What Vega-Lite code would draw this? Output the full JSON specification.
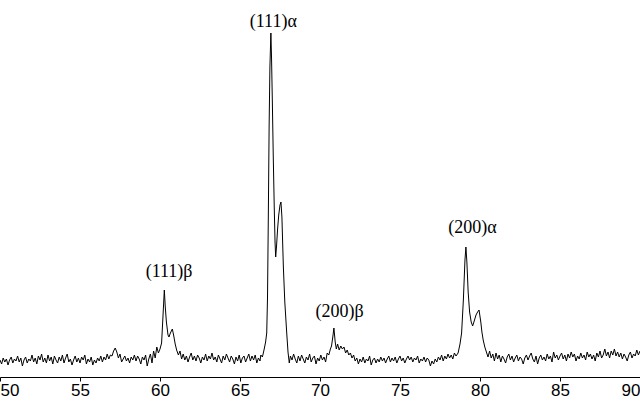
{
  "$schema": "https://vega.github.io/schema/vega-lite/v6.json",
  "width": 640,
  "height": 377,
  "autosize": {"type": "none"},
  "padding": {"left": 0, "right": 0, "top": 0, "bottom": 25},
  "background": "white",
  "config": {"view": {"stroke": null}},
  "datasets": {
    "xrd": [
      {"t":50.0,"i":17},{"t":50.1,"i":13},{"t":50.2,"i":19},{"t":50.3,"i":15},{"t":50.4,"i":18},{"t":50.5,"i":12},{"t":50.6,"i":17},{"t":50.7,"i":20},{"t":50.8,"i":14},{"t":50.9,"i":18},
      {"t":51.0,"i":16},{"t":51.1,"i":21},{"t":51.2,"i":15},{"t":51.3,"i":19},{"t":51.4,"i":11},{"t":51.5,"i":17},{"t":51.6,"i":20},{"t":51.7,"i":14},{"t":51.8,"i":18},{"t":51.9,"i":16},
      {"t":52.0,"i":22},{"t":52.1,"i":15},{"t":52.2,"i":19},{"t":52.3,"i":13},{"t":52.4,"i":21},{"t":52.5,"i":17},{"t":52.6,"i":23},{"t":52.7,"i":15},{"t":52.8,"i":19},{"t":52.9,"i":14},
      {"t":53.0,"i":22},{"t":53.1,"i":16},{"t":53.2,"i":20},{"t":53.3,"i":13},{"t":53.4,"i":21},{"t":53.5,"i":17},{"t":53.6,"i":14},{"t":53.7,"i":20},{"t":53.8,"i":16},{"t":53.9,"i":22},
      {"t":54.0,"i":14},{"t":54.1,"i":19},{"t":54.2,"i":23},{"t":54.3,"i":15},{"t":54.4,"i":18},{"t":54.5,"i":12},{"t":54.6,"i":17},{"t":54.7,"i":21},{"t":54.8,"i":15},{"t":54.9,"i":19},
      {"t":55.0,"i":14},{"t":55.1,"i":20},{"t":55.2,"i":17},{"t":55.3,"i":22},{"t":55.4,"i":13},{"t":55.5,"i":18},{"t":55.6,"i":15},{"t":55.7,"i":20},{"t":55.8,"i":12},{"t":55.9,"i":17},
      {"t":56.0,"i":14},{"t":56.1,"i":19},{"t":56.2,"i":16},{"t":56.3,"i":21},{"t":56.4,"i":15},{"t":56.5,"i":20},{"t":56.6,"i":17},{"t":56.7,"i":23},{"t":56.8,"i":18},{"t":56.9,"i":22},
      {"t":57.0,"i":21},{"t":57.1,"i":26},{"t":57.2,"i":29},{"t":57.3,"i":25},{"t":57.4,"i":19},{"t":57.5,"i":23},{"t":57.6,"i":15},{"t":57.7,"i":18},{"t":57.8,"i":21},{"t":57.9,"i":16},
      {"t":58.0,"i":19},{"t":58.1,"i":14},{"t":58.2,"i":20},{"t":58.3,"i":17},{"t":58.4,"i":22},{"t":58.5,"i":16},{"t":58.6,"i":21},{"t":58.7,"i":18},{"t":58.8,"i":13},{"t":58.9,"i":20},
      {"t":59.0,"i":17},{"t":59.1,"i":22},{"t":59.2,"i":11},{"t":59.3,"i":18},{"t":59.4,"i":23},{"t":59.5,"i":14},{"t":59.6,"i":26},{"t":59.7,"i":19},{"t":59.8,"i":30},{"t":59.9,"i":24},
      {"t":60.0,"i":28},{"t":60.1,"i":34},{"t":60.2,"i":65},{"t":60.27,"i":87},{"t":60.33,"i":70},{"t":60.4,"i":55},{"t":60.5,"i":42},{"t":60.56,"i":40},{"t":60.65,"i":44},{"t":60.77,"i":48},
      {"t":60.85,"i":42},{"t":60.95,"i":33},{"t":61.04,"i":27},
      {"t":61.15,"i":22},{"t":61.25,"i":26},{"t":61.35,"i":18},{"t":61.45,"i":23},{"t":61.55,"i":17},{"t":61.65,"i":21},{"t":61.75,"i":15},{"t":61.85,"i":20},{"t":61.95,"i":24},{"t":62.05,"i":17},
      {"t":62.15,"i":21},{"t":62.25,"i":16},{"t":62.35,"i":22},{"t":62.45,"i":19},{"t":62.55,"i":14},{"t":62.65,"i":20},{"t":62.75,"i":17},{"t":62.85,"i":23},{"t":62.95,"i":16},{"t":63.05,"i":21},
      {"t":63.15,"i":18},{"t":63.25,"i":24},{"t":63.35,"i":17},{"t":63.45,"i":20},{"t":63.55,"i":15},{"t":63.65,"i":22},{"t":63.75,"i":18},{"t":63.85,"i":14},{"t":63.95,"i":21},{"t":64.05,"i":17},
      {"t":64.15,"i":23},{"t":64.25,"i":19},{"t":64.35,"i":15},{"t":64.45,"i":21},{"t":64.55,"i":18},{"t":64.65,"i":13},{"t":64.75,"i":20},{"t":64.85,"i":16},{"t":64.95,"i":22},{"t":65.05,"i":14},
      {"t":65.15,"i":19},{"t":65.25,"i":21},{"t":65.35,"i":15},{"t":65.45,"i":19},{"t":65.55,"i":23},{"t":65.65,"i":16},{"t":65.75,"i":21},{"t":65.85,"i":17},{"t":65.95,"i":22},{"t":66.05,"i":14},
      {"t":66.15,"i":19},{"t":66.25,"i":16},{"t":66.3,"i":22},{"t":66.4,"i":20},{"t":66.5,"i":27},{"t":66.6,"i":35},{"t":66.67,"i":44},{"t":66.72,"i":80},
      {"t":66.77,"i":160},{"t":66.82,"i":250},{"t":66.87,"i":310},{"t":66.93,"i":344},{"t":66.97,"i":320},{"t":67.02,"i":277},{"t":67.08,"i":220},{"t":67.14,"i":170},{"t":67.19,"i":135},{"t":67.23,"i":120},
      {"t":67.28,"i":130},{"t":67.35,"i":148},{"t":67.42,"i":162},{"t":67.5,"i":172},{"t":67.56,"i":175},{"t":67.62,"i":160},{"t":67.71,"i":110},{"t":67.8,"i":75},{"t":67.92,"i":44},{"t":68.0,"i":25},
      {"t":68.08,"i":14},{"t":68.15,"i":21},{"t":68.25,"i":17},{"t":68.35,"i":23},{"t":68.45,"i":18},{"t":68.55,"i":14},{"t":68.65,"i":21},{"t":68.75,"i":16},{"t":68.85,"i":22},{"t":68.95,"i":18},
      {"t":69.05,"i":14},{"t":69.15,"i":20},{"t":69.25,"i":17},{"t":69.35,"i":23},{"t":69.45,"i":15},{"t":69.55,"i":19},{"t":69.65,"i":21},{"t":69.75,"i":13},{"t":69.85,"i":19},{"t":69.95,"i":16},
      {"t":70.05,"i":22},{"t":70.15,"i":17},{"t":70.25,"i":20},{"t":70.35,"i":15},{"t":70.45,"i":24},{"t":70.55,"i":22},{"t":70.65,"i":28},{"t":70.72,"i":31},{"t":70.8,"i":40},{"t":70.87,"i":49},
      {"t":70.95,"i":35},{"t":71.02,"i":28},{"t":71.1,"i":33},{"t":71.2,"i":27},{"t":71.3,"i":31},{"t":71.4,"i":28},{"t":71.5,"i":30},{"t":71.6,"i":24},{"t":71.7,"i":27},{"t":71.8,"i":22},
      {"t":71.9,"i":24},{"t":72.0,"i":19},{"t":72.1,"i":22},{"t":72.2,"i":16},{"t":72.3,"i":19},{"t":72.4,"i":13},{"t":72.5,"i":18},{"t":72.6,"i":15},{"t":72.7,"i":20},{"t":72.8,"i":14},
      {"t":72.9,"i":18},{"t":73.0,"i":16},{"t":73.1,"i":21},{"t":73.2,"i":12},{"t":73.3,"i":17},{"t":73.4,"i":19},{"t":73.5,"i":14},{"t":73.6,"i":18},{"t":73.7,"i":15},{"t":73.8,"i":20},
      {"t":73.9,"i":16},{"t":74.0,"i":19},{"t":74.1,"i":14},{"t":74.2,"i":18},{"t":74.3,"i":21},{"t":74.4,"i":15},{"t":74.5,"i":19},{"t":74.6,"i":16},{"t":74.7,"i":20},{"t":74.8,"i":14},
      {"t":74.9,"i":18},{"t":75.0,"i":21},{"t":75.1,"i":16},{"t":75.2,"i":19},{"t":75.3,"i":14},{"t":75.4,"i":18},{"t":75.5,"i":21},{"t":75.6,"i":17},{"t":75.7,"i":20},{"t":75.8,"i":15},
      {"t":75.9,"i":19},{"t":76.0,"i":17},{"t":76.1,"i":21},{"t":76.2,"i":14},{"t":76.3,"i":18},{"t":76.4,"i":16},{"t":76.5,"i":20},{"t":76.6,"i":15},{"t":76.7,"i":19},{"t":76.8,"i":17},
      {"t":76.9,"i":11},{"t":77.0,"i":16},{"t":77.1,"i":13},{"t":77.2,"i":18},{"t":77.3,"i":15},{"t":77.4,"i":20},{"t":77.5,"i":17},{"t":77.6,"i":22},{"t":77.7,"i":16},{"t":77.8,"i":21},
      {"t":77.9,"i":18},{"t":78.0,"i":23},{"t":78.1,"i":19},{"t":78.2,"i":22},{"t":78.3,"i":18},{"t":78.4,"i":24},{"t":78.5,"i":21},
      {"t":78.63,"i":24},{"t":78.75,"i":33},{"t":78.85,"i":44},{"t":78.96,"i":77},{"t":79.06,"i":117},{"t":79.12,"i":130},{"t":79.18,"i":115},{"t":79.26,"i":85},{"t":79.35,"i":65},{"t":79.45,"i":55},
      {"t":79.54,"i":51},{"t":79.62,"i":55},{"t":79.75,"i":62},{"t":79.85,"i":65},{"t":79.94,"i":67},{"t":80.05,"i":55},{"t":80.12,"i":45},{"t":80.2,"i":37},{"t":80.3,"i":30},{"t":80.4,"i":25},
      {"t":80.5,"i":20},{"t":80.6,"i":26},{"t":80.7,"i":19},{"t":80.8,"i":23},{"t":80.9,"i":16},{"t":81.0,"i":24},{"t":81.1,"i":18},{"t":81.2,"i":22},{"t":81.3,"i":15},{"t":81.4,"i":21},
      {"t":81.5,"i":18},{"t":81.6,"i":14},{"t":81.7,"i":20},{"t":81.8,"i":23},{"t":81.9,"i":17},{"t":82.0,"i":21},{"t":82.1,"i":15},{"t":82.2,"i":19},{"t":82.3,"i":22},{"t":82.4,"i":16},
      {"t":82.5,"i":20},{"t":82.6,"i":18},{"t":82.7,"i":13},{"t":82.8,"i":19},{"t":82.9,"i":22},{"t":83.0,"i":17},{"t":83.1,"i":21},{"t":83.2,"i":24},{"t":83.3,"i":18},{"t":83.4,"i":15},
      {"t":83.5,"i":21},{"t":83.6,"i":13},{"t":83.7,"i":19},{"t":83.8,"i":22},{"t":83.9,"i":17},{"t":84.0,"i":20},{"t":84.1,"i":16},{"t":84.2,"i":23},{"t":84.3,"i":18},{"t":84.4,"i":21},
      {"t":84.5,"i":15},{"t":84.6,"i":25},{"t":84.7,"i":19},{"t":84.8,"i":22},{"t":84.9,"i":17},{"t":85.0,"i":21},{"t":85.1,"i":24},{"t":85.2,"i":18},{"t":85.3,"i":22},{"t":85.4,"i":16},
      {"t":85.5,"i":23},{"t":85.6,"i":19},{"t":85.7,"i":25},{"t":85.8,"i":20},{"t":85.9,"i":23},{"t":86.0,"i":16},{"t":86.1,"i":21},{"t":86.2,"i":18},{"t":86.3,"i":24},{"t":86.4,"i":19},
      {"t":86.5,"i":22},{"t":86.6,"i":17},{"t":86.7,"i":25},{"t":86.8,"i":20},{"t":86.9,"i":23},{"t":87.0,"i":18},{"t":87.1,"i":22},{"t":87.2,"i":16},{"t":87.3,"i":24},{"t":87.4,"i":20},
      {"t":87.5,"i":26},{"t":87.6,"i":19},{"t":87.7,"i":22},{"t":87.8,"i":28},{"t":87.9,"i":21},{"t":88.0,"i":25},{"t":88.1,"i":19},{"t":88.2,"i":26},{"t":88.3,"i":22},{"t":88.4,"i":28},
      {"t":88.5,"i":21},{"t":88.6,"i":25},{"t":88.7,"i":20},{"t":88.8,"i":24},{"t":88.9,"i":18},{"t":89.0,"i":23},{"t":89.1,"i":20},{"t":89.2,"i":16},{"t":89.3,"i":22},{"t":89.4,"i":25},
      {"t":89.5,"i":19},{"t":89.6,"i":23},{"t":89.7,"i":21},{"t":89.8,"i":27},{"t":89.9,"i":22},{"t":90.0,"i":26}
    ],
    "peaks": [
      {"t":67.08,"i":350,"label":"(111)α"},
      {"t":60.57,"i":100,"label":"(111)β"},
      {"t":71.23,"i":60,"label":"(200)β"},
      {"t":79.53,"i":144,"label":"(200)α"}
    ]
  },
  "layer": [
    {
      "data": {"name": "xrd"},
      "mark": {"type": "line", "color": "black", "strokeWidth": 1, "interpolate": "linear"},
      "encoding": {
        "x": {
          "field": "t", "type": "quantitative",
          "scale": {"domain": [50, 90], "nice": false, "zero": false},
          "axis": {
            "title": null, "values": [50,55,60,65,70,75,80,85,90],
            "grid": false, "labelFlush": true, "tickSize": 4, "tickColor": "black",
            "domainColor": "black", "labelColor": "black", "labelFont": "Liberation Sans",
            "labelFontSize": 17, "labelPadding": 1, "domainWidth": 1, "tickWidth": 1
          }
        },
        "y": {
          "field": "i", "type": "quantitative",
          "scale": {"domain": [0, 377], "nice": false},
          "axis": null
        }
      }
    },
    {
      "data": {"name": "peaks"},
      "mark": {"type": "text", "font": "Liberation Serif", "fontSize": 18, "color": "black", "align": "center", "baseline": "alphabetic"},
      "encoding": {
        "x": {"field": "t", "type": "quantitative"},
        "y": {"field": "i", "type": "quantitative"},
        "text": {"field": "label"}
      }
    }
  ]
}
